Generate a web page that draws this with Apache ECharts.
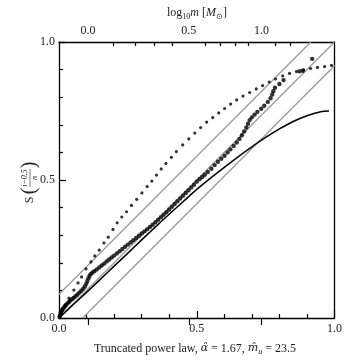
<!DOCTYPE html>
<html><head><meta charset="utf-8">
<script src="https://cdn.jsdelivr.net/npm/echarts@6/dist/echarts.min.js"></script>
<style>html,body{margin:0;padding:0;background:#fff}#c{width:345px;height:360px}</style>
</head><body><div id="c"></div>
<script>
// ---- data ----
const bandHalfWidth = 0.086;
const bottomLabels = ['0.0', '0.5', '1.0'];
const leftLabels = ['0.0', '0.5', '1.0'];
const topLabelText = ['0.0', '0.5', '1.0'];
const topLabelPos = [0.105, 0.471, 0.735];
const topMinorPos = [0.196, 0.275, 0.346, 0.411, 0.531, 0.587, 0.639, 0.688, 0.786, 0.841];

const modelCurveX = [0, 0.05, 0.1, 0.15, 0.2, 0.25, 0.3, 0.35, 0.4, 0.45, 0.5, 0.55, 0.6, 0.65, 0.7, 0.75, 0.8, 0.85, 0.9, 0.95, 0.98];
const modelCurveY = [0, 0.047, 0.093, 0.14, 0.188, 0.235, 0.283, 0.33, 0.376, 0.421, 0.466, 0.507, 0.546, 0.584, 0.62, 0.654, 0.685, 0.712, 0.733, 0.747, 0.75];

const dottedX = [0.011,0.022,0.036,0.054,0.069,0.082,0.098,0.116,0.130,0.146,0.163,0.179,0.196,0.211,0.228,0.245,0.263,0.282,0.301,0.320,0.337,0.354,0.371,0.388,0.408,0.426,0.449,0.471,0.493,0.514,0.536,0.558,0.580,0.601,0.623,0.645,0.668,0.692,0.716,0.739,0.763,0.786,0.812,0.837,0.862,0.888,0.913,0.938,0.964,0.989];
const dottedY = [0.025,0.047,0.072,0.101,0.127,0.149,0.178,0.203,0.225,0.246,0.272,0.293,0.321,0.345,0.366,0.385,0.408,0.430,0.453,0.476,0.496,0.518,0.540,0.560,0.582,0.603,0.627,0.649,0.670,0.690,0.710,0.726,0.743,0.759,0.775,0.790,0.804,0.817,0.830,0.842,0.855,0.866,0.877,0.886,0.893,0.899,0.904,0.908,0.911,0.915];

const sampleX = [0.002,0.004,0.006,0.008,0.011,0.014,0.018,0.022,0.026,0.031,0.036,0.041,0.047,0.053,0.060,0.067,0.074,0.081,0.088,0.094,0.099,0.103,0.107,0.111,0.116,0.122,0.129,0.137,0.146,0.155,0.164,0.173,0.182,0.191,0.200,0.210,0.220,0.230,0.240,0.250,0.260,0.270,0.280,0.290,0.300,0.310,0.320,0.330,0.340,0.350,0.360,0.370,0.380,0.390,0.400,0.410,0.420,0.430,0.440,0.450,0.460,0.470,0.480,0.490,0.500,0.510,0.520,0.529,0.540,0.553,0.565,0.577,0.589,0.601,0.612,0.622,0.634,0.645,0.655,0.664,0.672,0.680,0.686,0.692,0.700,0.710,0.720,0.734,0.745,0.758,0.768,0.774,0.778,0.784,0.800,0.815,0.873,0.885,0.919];
const sampleY = [0.004,0.010,0.016,0.022,0.028,0.033,0.038,0.043,0.048,0.053,0.058,0.063,0.068,0.073,0.079,0.085,0.092,0.099,0.106,0.114,0.124,0.134,0.144,0.153,0.160,0.165,0.170,0.176,0.183,0.190,0.197,0.205,0.212,0.219,0.226,0.234,0.242,0.250,0.258,0.266,0.274,0.282,0.290,0.298,0.306,0.314,0.322,0.330,0.338,0.347,0.356,0.365,0.374,0.383,0.393,0.403,0.413,0.423,0.433,0.443,0.453,0.463,0.473,0.483,0.494,0.503,0.511,0.519,0.529,0.541,0.554,0.566,0.577,0.588,0.600,0.611,0.623,0.636,0.649,0.662,0.676,0.690,0.704,0.717,0.727,0.737,0.747,0.758,0.769,0.783,0.796,0.810,0.822,0.834,0.848,0.862,0.894,0.896,0.939];

// ---- chart ----
const zip = (xs, ys) => xs.map((x, i) => [x, ys[i]]);
const d = bandHalfWidth;
const FONT = 'Liberation Serif';
const grey = '#9a9a9a';
const chart = echarts.init(document.getElementById('c'), null, {renderer: 'canvas'});

const commonLine = {lineStyle: {color: '#000', width: 1.3}};
chart.setOption({
  animation: false,
  backgroundColor: '#fff',
  grid: {left: 59, right: 10, top: 42, bottom: 42, containLabel: false},
  xAxis: [
    {type: 'value', min: 0, max: 1, interval: 0.5, position: 'bottom',
     axisLine: {show: true, onZero: false, ...commonLine},
     axisTick: {inside: true, length: 7, lineStyle: {color: '#000', width: 1.2}},
     minorTick: {show: true, splitNumber: 5, length: 4, lineStyle: {color: '#000', width: 1.2}},
     splitLine: {show: false},
     axisLabel: {margin: 5, fontFamily: FONT, fontSize: 12, color: '#222',
       formatter: (v) => bottomLabels[Math.round(v * 2)]}},
    {type: 'value', min: 0, max: 1, position: 'top',
     axisLine: {show: true, onZero: false, ...commonLine},
     axisTick: {show: true, inside: true, length: 4, customValues: topMinorPos, lineStyle: {color: '#000', width: 1.2}},
     splitLine: {show: false}, axisLabel: {show: false}},
    {type: 'value', min: 0, max: 1, position: 'top',
     axisLine: {show: false},
     axisTick: {show: true, inside: true, length: 7, customValues: topLabelPos, lineStyle: {color: '#000', width: 1.2}},
     splitLine: {show: false},
     axisLabel: {show: true, margin: 5, fontFamily: FONT, fontSize: 12, color: '#222', customValues: topLabelPos,
       formatter: (v) => {
         let best = 0;
         topLabelPos.forEach((p, i) => { if (Math.abs(p - v) < Math.abs(topLabelPos[best] - v)) best = i; });
         return topLabelText[best];
       }}}
  ],
  yAxis: [
    {type: 'value', min: 0, max: 1, interval: 0.5, position: 'left',
     axisLine: {show: true, onZero: false, ...commonLine},
     axisTick: {inside: true, length: 7, lineStyle: {color: '#000', width: 1.2}},
     minorTick: {show: true, splitNumber: 5, length: 4, lineStyle: {color: '#000', width: 1.2}},
     splitLine: {show: false},
     axisLabel: {margin: 4, fontFamily: FONT, fontSize: 12, color: '#222',
       formatter: (v) => leftLabels[Math.round(v * 2)]}},
    {type: 'value', min: 0, max: 1, position: 'right',
     axisLine: {show: true, onZero: false, ...commonLine},
     axisTick: {show: false}, splitLine: {show: false}, axisLabel: {show: false}}
  ],
  series: [
    {type: 'line', data: [[0, d], [1 - d, 1]], symbol: 'none', lineStyle: {color: grey, width: 1.3}, z: 1},
    {type: 'line', data: [[0, 0], [1, 1]], symbol: 'none', lineStyle: {color: grey, width: 1.3}, z: 1},
    {type: 'line', data: [[d, 0], [1, 1 - d]], symbol: 'none', lineStyle: {color: grey, width: 1.3}, z: 1},
    {type: 'line', data: zip(modelCurveX, modelCurveY), symbol: 'none', smooth: 0.3,
     lineStyle: {color: '#000', width: 1.5}, z: 2},
    {type: 'scatter', data: zip(dottedX, dottedY), symbol: 'circle', symbolSize: 3.2,
     itemStyle: {color: '#000'}, z: 3},
    {type: 'scatter', data: zip(sampleX, sampleY), symbol: 'circle', symbolSize: 4.4,
     itemStyle: {color: '#000'}, z: 4}
  ],
  graphic: [
    {type: 'text', x: 197, y: 5,
     style: {text: '{n|log}{s|10}{i|m} {n|[}{i|M}{s|⊙}{n|]}', align: 'center', fontFamily: FONT, fill: '#222',
       rich: {n: {fontFamily: FONT, fontSize: 12, fill: '#222'},
              i: {fontFamily: FONT, fontSize: 12, fontStyle: 'italic', fill: '#222'},
              s: {fontFamily: FONT, fontSize: 8, fill: '#222', padding: [8, 0, 0, 0]}}}},
    {type: 'text', x: 195, y: 341,
     style: {text: '{n|Truncated power law, }{i|α̂}{n| = 1.67, }{i|m̂}{s|u}{n| = 23.5}', align: 'center', fontFamily: FONT, fill: '#222',
       rich: {n: {fontFamily: FONT, fontSize: 12, fill: '#222'},
              i: {fontFamily: 'DejaVu Serif', fontSize: 11, fontStyle: 'italic', fill: '#222'},
              s: {fontFamily: FONT, fontSize: 8, fontStyle: 'italic', fill: '#222', padding: [7, 0, 0, 0]}}}},
    {type: 'group', x: 30, y: 178, rotation: Math.PI / 2,
     children: [
       {type: 'text', x: -22, y: 0, style: {text: 'S', fontFamily: FONT, fontSize: 12, fill: '#222', verticalAlign: 'middle', align: 'center'}},
       {type: 'text', x: -13, y: 0, style: {text: '(', fontFamily: FONT, fontSize: 20, fill: '#222', verticalAlign: 'middle', align: 'center'}},
       {type: 'text', x: 0, y: -5, style: {text: 'i−0.5', fontFamily: FONT, fontSize: 8, fontStyle: 'italic', fill: '#222', verticalAlign: 'middle', align: 'center'}},
       {type: 'line', shape: {x1: -9, y1: 0, x2: 9, y2: 0}, style: {stroke: '#222', lineWidth: 0.6}},
       {type: 'text', x: 0, y: 5, style: {text: 'n', fontFamily: FONT, fontSize: 8, fontStyle: 'italic', fill: '#222', verticalAlign: 'middle', align: 'center'}},
       {type: 'text', x: 13, y: 0, style: {text: ')', fontFamily: FONT, fontSize: 20, fill: '#222', verticalAlign: 'middle', align: 'center'}}
     ]}
  ]
});
</script>
</body></html>
